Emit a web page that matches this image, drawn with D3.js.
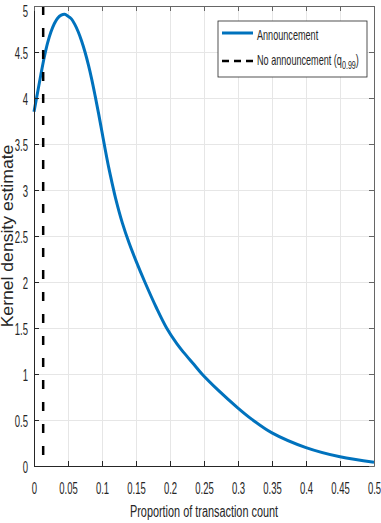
<!DOCTYPE html>
<html>
<head>
<meta charset="utf-8">
<script src="https://cdnjs.cloudflare.com/ajax/libs/d3/7.8.5/d3.min.js"></script>
<style>
  body { margin: 0; background: #fff; }
  svg { display: block; }
  text { font-family: "Liberation Sans", Arial, sans-serif; fill: #262626; }
</style>
</head>
<body>
<svg id="chart" width="381" height="523"></svg>
<script>
var width = 381;
var height = 523;
var padding = { t: 6, r: 7, b: 57, l: 34 };

// Kernel density estimate
var proportion = [0, 0.005, 0.01, 0.015, 0.02, 0.025, 0.03, 0.035, 0.04, 0.045, 0.05, 0.055, 0.06, 0.065, 0.07, 0.075, 0.08, 0.085, 0.09, 0.095, 0.1, 0.105, 0.11, 0.115, 0.12, 0.13, 0.14, 0.15, 0.163, 0.18, 0.195, 0.21, 0.22, 0.235, 0.247, 0.27, 0.3, 0.32, 0.35, 0.4, 0.45, 0.5];
var density = [3.85, 4.05, 4.25, 4.44, 4.6, 4.72, 4.81, 4.87, 4.9, 4.91, 4.89, 4.86, 4.8, 4.72, 4.62, 4.5, 4.36, 4.2, 4.02, 3.83, 3.63, 3.43, 3.24, 3.07, 2.91, 2.64, 2.42, 2.23, 2.0, 1.72, 1.5, 1.33, 1.235, 1.105, 1.0, 0.83, 0.63, 0.51, 0.36, 0.2, 0.1, 0.04];

// No announcement 99% quantile
var quantile99 = 0.0135;

var xTicks = [0, 0.05, 0.1, 0.15, 0.2, 0.25, 0.3, 0.35, 0.4, 0.45, 0.5];
var yTicks = [0, 0.5, 1, 1.5, 2, 2.5, 3, 3.5, 4, 4.5, 5];
var seriesNames = ["Announcement", "No announcement (q", "0.99", ")"];

var chartWidth = width - padding.l - padding.r;
var chartHeight = height - padding.t - padding.b;

var svg = d3.select("#chart");

var xScale = d3.scaleLinear().domain([0, 0.5]).range([0, chartWidth]);
var yScale = d3.scaleLinear().domain([0, 5]).range([chartHeight, 0]);

var g = svg.append("g")
    .attr("transform", "translate(" + padding.l + "," + padding.t + ")");

// grid
g.append("g")
    .attr("class", "grid")
    .attr("transform", "translate(0," + chartHeight + ")")
    .call(d3.axisBottom(xScale).tickValues(xTicks).tickSize(-chartHeight).tickFormat(""));
g.append("g")
    .attr("class", "grid")
    .call(d3.axisLeft(yScale).tickValues(yTicks).tickSize(-chartWidth).tickFormat(""));
g.selectAll(".grid .domain").remove();
g.selectAll(".grid line").attr("stroke", "#e6e6e6").attr("stroke-width", 1);

// curve
var line = d3.line()
    .x(function (d, i) { return xScale(proportion[i]); })
    .y(function (d) { return yScale(d); })
    .curve(d3.curveCatmullRom.alpha(0.5));

g.append("path")
    .datum(density)
    .attr("fill", "none")
    .attr("stroke", "#0072BD")
    .attr("stroke-width", 3)
    .attr("d", line);

// quantile line
g.append("line")
    .attr("x1", xScale(quantile99))
    .attr("x2", xScale(quantile99))
    .attr("y1", yScale(5))
    .attr("y2", yScale(0))
    .attr("stroke", "#000")
    .attr("stroke-width", 2.5)
    .attr("stroke-dasharray", "9,13");

// axes
var xAxis = g.append("g")
    .attr("transform", "translate(0," + chartHeight + ")")
    .call(d3.axisBottom(xScale).tickValues(xTicks).tickSizeInner(-5).tickSizeOuter(0).tickPadding(16)
        .tickFormat(function (d) { return String(d); }));
var yAxis = g.append("g")
    .call(d3.axisLeft(yScale).tickValues(yTicks).tickSizeInner(-5).tickSizeOuter(0).tickPadding(0)
        .tickFormat(function (d) { return String(d); }));
var topAxis = g.append("g")
    .call(d3.axisTop(xScale).tickValues(xTicks).tickSizeInner(-5).tickSizeOuter(0).tickFormat(""));
var rightAxis = g.append("g")
    .attr("transform", "translate(" + chartWidth + ",0)")
    .call(d3.axisRight(yScale).tickValues(yTicks).tickSizeInner(-5).tickSizeOuter(0).tickFormat(""));

[xAxis, yAxis].forEach(function (a) {
    a.select(".domain").attr("stroke", "#262626");
    a.selectAll("line").attr("stroke", "#262626");
});
[topAxis, rightAxis].forEach(function (a) {
    a.select(".domain").attr("stroke", "#666");
    a.selectAll("line").attr("stroke", "#666");
});

xAxis.selectAll("text")
    .style("font-size", "17px")
    .style("font-family", "'Liberation Sans', Arial, sans-serif")
    .attr("fill", "#262626")
    .attr("transform", "scale(0.56,1)");
yAxis.selectAll("text")
    .style("font-size", "17px")
    .style("font-family", "'Liberation Sans', Arial, sans-serif")
    .attr("fill", "#262626")
    .attr("x", -6 / 0.56)
    .attr("dy", function (d) { return d === 5 ? "0.62em" : "0.36em"; })
    .attr("transform", "scale(0.56,1)");

// axis labels
svg.append("text")
    .attr("transform", "translate(" + (padding.l + chartWidth / 2) + ",517) scale(0.68,1)")
    .attr("text-anchor", "middle")
    .style("font-size", "16px")
    .text("Proportion of transaction count");

svg.append("text")
    .attr("transform", "translate(13," + (padding.t + chartHeight / 2) + ") rotate(-90) scale(1.1,1)")
    .attr("text-anchor", "middle")
    .style("font-size", "16px")
    .text("Kernel density estimate");

// legend
var legend = svg.append("g");
legend.append("rect")
    .attr("x", 218)
    .attr("y", 21)
    .attr("width", 149)
    .attr("height", 56)
    .attr("fill", "#fff")
    .attr("stroke", "#262626")
    .attr("stroke-width", 0.8);

legend.append("line")
    .attr("x1", 222).attr("x2", 253)
    .attr("y1", 33).attr("y2", 33)
    .attr("stroke", "#0072BD")
    .attr("stroke-width", 3);
legend.append("line")
    .attr("x1", 222).attr("x2", 253)
    .attr("y1", 61).attr("y2", 61)
    .attr("stroke", "#000")
    .attr("stroke-width", 2.5)
    .attr("stroke-dasharray", "7,5");

legend.append("text")
    .attr("transform", "translate(257,40) scale(0.65,1)")
    .style("font-size", "14px")
    .text(seriesNames[0]);

var t2 = legend.append("text")
    .attr("transform", "translate(257,65) scale(0.65,1)")
    .style("font-size", "14px");
t2.append("tspan").text(seriesNames[1]);
t2.append("tspan").attr("dy", 4).style("font-size", "11px").text(seriesNames[2]);
t2.append("tspan").attr("dy", -4).text(seriesNames[3]);
</script>
</body>
</html>
